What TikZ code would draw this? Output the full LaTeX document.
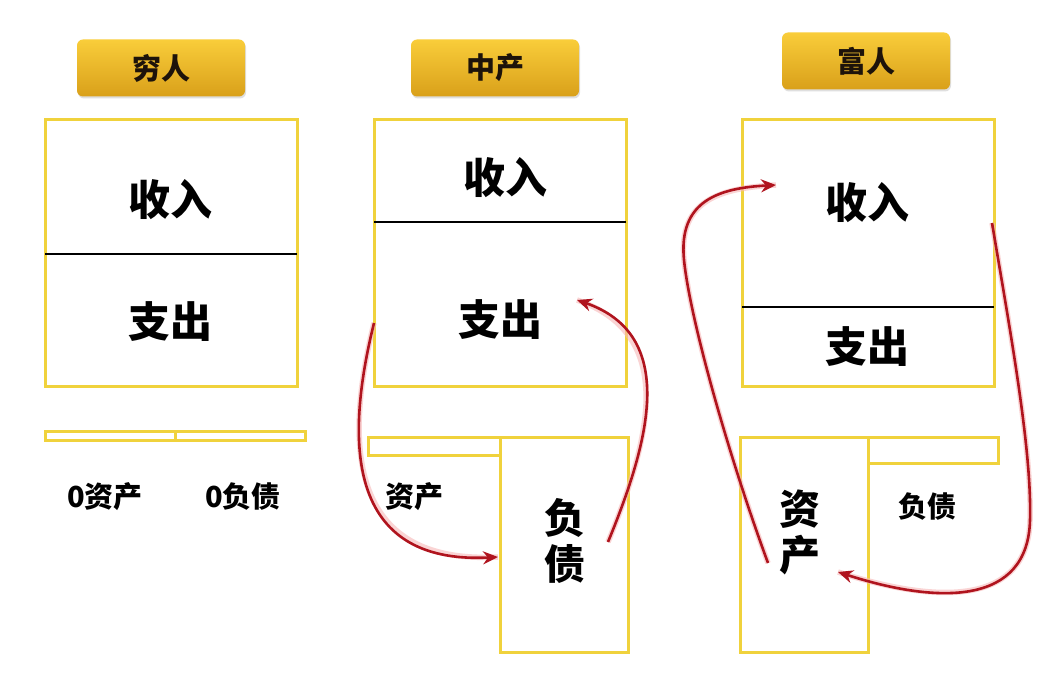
\documentclass[tikz,border=0pt]{standalone}
\usepackage{fontspec}
\setmainfont{Noto Sans CJK SC}
\usetikzlibrary{arrows.meta,shadows,calc}
\definecolor{boxy}{HTML}{F0D23C}
\definecolor{arrowred}{HTML}{B0141E}
\definecolor{glow}{HTML}{F7B8B8}
\definecolor{goldtop}{HTML}{F9CD3A}
\definecolor{goldbot}{HTML}{D9A01A}
\tikzset{
  ybox/.style={draw=boxy, line width=3pt, inner sep=0pt, fill=white},
  header/.style={rounded corners=6pt, top color=goldtop, bottom color=goldbot, draw=none,
    minimum width=168pt, minimum height=57pt, font=\bfseries\fontsize{29}{29}\selectfont,
    text=black!85!brown, drop shadow={opacity=0.25, shadow xshift=1pt, shadow yshift=-2pt}},
  bigtxt/.style={font=\bfseries\fontsize{42}{42}\selectfont, text=black},
  midtxt/.style={font=\bfseries\fontsize{29}{29}\selectfont, text=black},
  vtxt/.style={font=\bfseries\fontsize{41}{50}\selectfont, text=black, align=center},
  divline/.style={draw=black, line width=2pt},
  flow/.style={draw=arrowred, line width=2.6pt, -{Stealth[length=15pt,width=13pt,inset=5pt]},
    preaction={draw=glow, line width=5.5pt, opacity=0.6, -{}}},
}
\begin{document}
\begin{tikzpicture}[x=1pt,y=-1pt]
\useasboundingbox[fill=white] (0,0) rectangle (1048,676);

% headers
\node[header] (h1) at (161,68) {穷人};
\node[header] (h2) at (495,68) {中产};
\node[header] (h3) at (866,61) {富人};

% ---------- poor ----------
\node[ybox, minimum width=252pt, minimum height=266pt] (pbox) at (171,253) {};
\draw[divline] (45,254) coordinate (pd1) -- (297,254) coordinate (pd2);
\node[bigtxt] (pin) at (170,200) {收入};
\node[bigtxt] (pout) at (170,322) {支出};
\node[ybox, minimum width=130pt, minimum height=9pt] (pbar1) at (110,436) {};
\node[ybox, minimum width=130pt, minimum height=9pt] (pbar2) at (240,436) {};
\node[midtxt] (pa) at (105,497) {0资产};
\node[midtxt] (pl) at (243,497) {0负债};

% ---------- middle ----------
\node[ybox, minimum width=252pt, minimum height=266pt] (mbox) at (500,253) {};
\draw[divline] (374,222) coordinate (md1) -- (626,222) coordinate (md2);
\node[bigtxt] (min) at (505,178) {收入};
\node[bigtxt] (mout) at (500,320) {支出};
\node[ybox, minimum width=132pt, minimum height=18pt] (mbar) at (434,446) {};
\node[ybox, minimum width=128pt, minimum height=215pt] (mlia) at (564,544.5) {};
\node[midtxt] (ma) at (414,497) {资产};
\node[vtxt] (ml) at (565,541) {负\\[-4pt]债};

% ---------- rich ----------
\node[ybox, minimum width=252pt, minimum height=266pt] (rbox) at (868,253) {};
\draw[divline] (742,307) coordinate (rd1) -- (994,307) coordinate (rd2);
\node[bigtxt] (rin) at (867,203) {收入};
\node[bigtxt] (rout) at (867,347) {支出};
\node[ybox, minimum width=128pt, minimum height=215pt] (rass) at (804,544.5) {};
\node[ybox, minimum width=130pt, minimum height=26pt] (rbar) at (933,450) {};
\node[vtxt] (ra) at (800,532) {资\\[-4pt]产};
\node[midtxt] (rl) at (927,507) {负债};

% ---------- arrows ----------
\coordinate (a1s) at (374,323);
\coordinate (a1e) at (498,557);
\draw[flow] (a1s) .. controls (345,440) and (345,565) .. (a1e);

\coordinate (a2s) at (608,542);
\coordinate (a2e) at (577,300);
\draw[flow] (a2s) .. controls (650,440) and (678,335) .. (a2e);

\coordinate (a3s) at (768,563);
\coordinate (a3m) at (684,260);
\coordinate (a3e) at (776,185);
\draw[flow] (a3s) .. controls (730,460) and (690,320) .. (a3m) .. controls (678,200) and (720,188) .. (a3e);

\coordinate (a4s) at (992,223);
\coordinate (a4m) at (1030,520);
\coordinate (a4e) at (838,572);
\draw[flow] (a4s) .. controls (1010,330) and (1032,450) .. (a4m) .. controls (1028,605) and (940,605) .. (a4e);
\end{tikzpicture}
\end{document}
